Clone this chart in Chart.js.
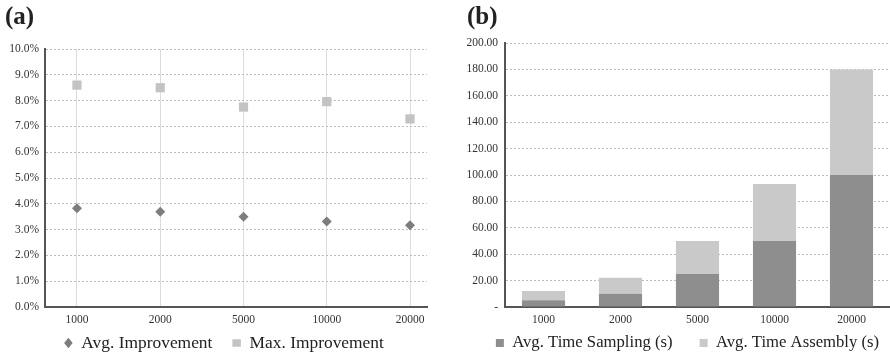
<!DOCTYPE html>
<html>
<head>
<meta charset="utf-8">
<script src="https://cdn.jsdelivr.net/npm/chart.js@4/dist/chart.umd.min.js"></script>
<style>
  body { margin: 0; background: #fff; }
  .wrap { position: relative; width: 890px; height: 357px; overflow: hidden; }
  .box { position: absolute; top: 0; height: 357px; }
  .tag { position: absolute; top: 2px; font: bold 25px "Liberation Serif", serif; color: #222; }
</style>
</head>
<body>
<div class="wrap">
  <div class="box" style="left:0;width:448px"><canvas id="chartA" width="448" height="357"></canvas></div>
  <div class="box" style="left:445px;width:485px"><canvas id="chartB" width="485" height="357"></canvas></div>
  <div class="tag" style="left:5px">(a)</div>
  <div class="tag" style="left:467px">(b)</div>
</div>
<script>
// donnees
const sizes = ['1000', '2000', '5000', '10000', '20000'];
const avgImprovement = [3.83, 3.69, 3.50, 3.31, 3.17];
const maxImprovement = [8.60, 8.50, 7.75, 7.96, 7.29];
const timeSampling = [5.1, 10.0, 25.0, 50.0, 100.0];
const timeAssembly = [7.0, 12.2, 25.0, 43.2, 80.0];

const serif = 'Liberation Serif';
const axisColor = '#555';
const tickFont = { family: serif, size: 11.5 };

// la legende garde son espacement horizontal mais on la remonte a la bonne hauteur
// (on ne touche pas au bas de la boite, sinon le texte est coupe)
const legendAt = {
    id: 'legendAt',
    afterLayout(chart, args, opts) {
        const lg = chart.legend;
        lg.top = opts.y - lg.options.labels.padding - lg.options.labels.font.size / 2;
    }
};

// axe vide a droite : reserve de la place pour le trace sans retrecir la legende
const margeDroite = w => ({
    type: 'linear',
    position: 'right',
    afterFit: s => { s.width = w; },
    ticks: { display: false },
    grid: { display: false },
    border: { display: false }
});

// graphe (a) : nuage de points, axe x lineaire pour placer les categories
const toPoints = vals => vals.map((v, i) => ({ x: i, y: v }));

new Chart(document.getElementById('chartA'), {
    type: 'scatter',
    data: {
        datasets: [{
            label: 'Avg. Improvement',
            data: toPoints(avgImprovement),
            pointStyle: 'rectRot',
            pointRadius: 5,
            backgroundColor: '#7d7d7d',
            borderWidth: 0
        }, {
            label: 'Max. Improvement',
            data: toPoints(maxImprovement),
            pointStyle: 'rect',
            pointRadius: 6.5,
            backgroundColor: '#c3c3c3',
            borderWidth: 0
        }]
    },
    plugins: [legendAt],
    options: {
        responsive: false,
        animation: false,
        layout: { padding: { top: 49, right: 0, bottom: 0, left: 0 } },
        plugins: {
            tooltip: { enabled: false },
            legendAt: { y: 343 },
            legend: {
                position: 'bottom',
                maxHeight: 30,
                labels: {
                    usePointStyle: true,
                    pointStyleWidth: 8.5,
                    boxHeight: 7.5,
                    padding: 20,
                    color: '#222',
                    font: { family: serif, size: 17.4 }
                }
            }
        },
        scales: {
            x: {
                type: 'linear',
                min: -0.384,
                max: 4.204,
                afterBuildTicks: s => { s.ticks = sizes.map((_, i) => ({ value: i })); },
                afterFit: s => { s.height = 20; },
                ticks: {
                    callback: v => sizes[v],
                    color: '#333',
                    padding: 6,
                    font: tickFont
                },
                grid: { color: '#dcdcdc', drawTicks: false },
                border: { color: axisColor, width: 2 }
            },
            y: {
                min: 0,
                max: 10,
                afterFit: s => { s.width = 45; },
                ticks: {
                    stepSize: 1,
                    callback: v => v.toFixed(1) + '%',
                    color: '#333',
                    padding: 6,
                    font: tickFont
                },
                grid: { color: '#bdbdbd', drawTicks: false },
                border: { color: axisColor, width: 2, dash: [2, 2] }
            },
            marge: margeDroite(21)
        }
    }
});

// graphe (b) : barres empilees
new Chart(document.getElementById('chartB'), {
    type: 'bar',
    data: {
        labels: sizes,
        datasets: [{
            label: 'Avg. Time Sampling (s)',
            data: timeSampling,
            backgroundColor: '#8e8e8e'
        }, {
            label: 'Avg. Time Assembly (s)',
            data: timeAssembly,
            backgroundColor: '#c9c9c9'
        }]
    },
    plugins: [legendAt],
    options: {
        responsive: false,
        animation: false,
        layout: { padding: { top: 43, right: 0, bottom: 0, left: 0 } },
        datasets: { bar: { categoryPercentage: 1, barPercentage: 0.56 } },
        plugins: {
            tooltip: { enabled: false },
            legendAt: { y: 343 },
            legend: {
                position: 'bottom',
                maxHeight: 30,
                labels: {
                    boxWidth: 8,
                    boxHeight: 8,
                    padding: 27,
                    color: '#222',
                    font: { family: serif, size: 16.7 }
                }
            }
        },
        scales: {
            x: {
                stacked: true,
                afterFit: s => { s.height = 20; },
                ticks: {
                    color: '#333',
                    padding: 6,
                    font: tickFont
                },
                grid: { display: false, drawTicks: false },
                border: { color: axisColor, width: 2 }
            },
            y: {
                stacked: true,
                min: 0,
                max: 200,
                afterFit: s => { s.width = 60; },
                ticks: {
                    stepSize: 20,
                    callback: v => v === 0 ? '-' : v.toFixed(2),
                    color: '#333',
                    padding: 7,
                    font: tickFont
                },
                grid: { color: '#bdbdbd', drawTicks: false },
                border: { color: axisColor, width: 2, dash: [2, 2] }
            },
            marge: margeDroite(40)
        }
    }
});
</script>
</body>
</html>
